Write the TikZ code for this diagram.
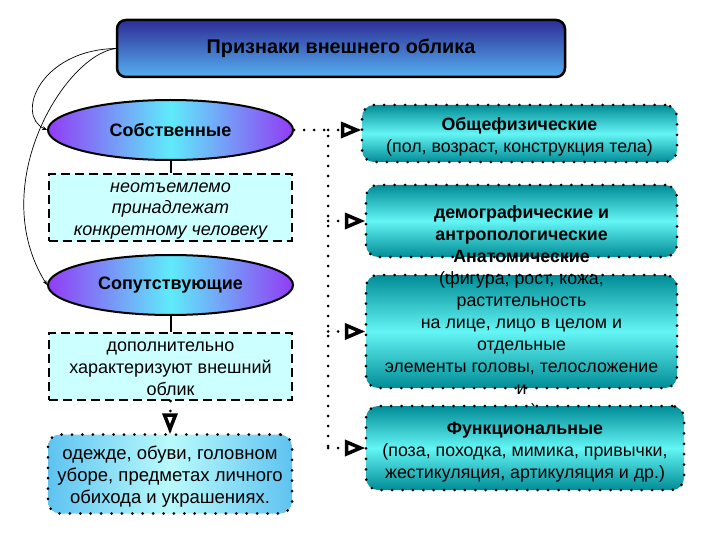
\documentclass[tikz,border=0pt]{standalone}
\usepackage{fontspec}
\setmainfont{Liberation Sans}
\usetikzlibrary{shapes.geometric,arrows.meta}
\definecolor{titletop}{RGB}{45,45,150}
\definecolor{titlebot}{RGB}{85,175,240}
\definecolor{elledge}{RGB}{145,60,245}
\definecolor{ellmid}{RGB}{95,235,250}
\definecolor{dashfill}{RGB}{204,255,255}
\definecolor{tealdark}{RGB}{0,140,150}
\definecolor{teallight}{RGB}{100,245,245}
\definecolor{skyedge}{RGB}{95,195,240}
\definecolor{skymid}{RGB}{185,250,252}
\tikzset{
  titlebox/.style={draw=black, line width=2.5pt, rounded corners=9pt, top color=titletop, bottom color=titlebot,
    minimum width=448pt, minimum height=57pt, font=\fontsize{19.8}{22}\selectfont\bfseries, inner sep=0pt},
  ellbox/.style={ellipse, draw=black, line width=2pt, left color=elledge, right color=elledge, middle color=ellmid,
    minimum width=245pt, minimum height=60pt, inner sep=0pt, font=\fontsize{18}{20}\selectfont\bfseries},
  dashbox/.style={draw=black, line width=2pt, dash pattern=on 9pt off 5pt, fill=dashfill,
    minimum width=243pt, inner sep=0pt},
  lefttext/.style={align=center, inner sep=0pt, font=\fontsize{18}{21.8}\selectfont},
  dotborder/.style={draw=black, line width=3pt, line cap=round, dash pattern=on 0pt off 10.4pt, rounded corners=12pt},
  tealbox/.style={dotborder, top color=tealdark, bottom color=tealdark, middle color=teallight,
    inner sep=0pt},
  tealtext/.style={align=center, inner sep=0pt, font=\fontsize{17.8}{22}\selectfont},
  skybox/.style={dotborder, left color=skyedge, right color=skyedge, middle color=skymid,
    minimum width=244pt, minimum height=79pt, inner sep=0pt},
  dotline/.style={draw=black, line width=3pt, line cap=round, dash pattern=on 0pt off 10pt},
  tiphead/.style={draw=black, fill=white, solid, line width=3.5pt, line join=miter},
  pics/tipright/.style={code={\path[tiphead] (-18,-6) -- (-18,6) -- (-4,0) -- cycle;}},
  pics/tipdown/.style={code={\path[tiphead] (-5.5,-18) -- (5.5,-18) -- (0,-4) -- cycle;}},
  solidline/.style={draw=black, line width=2pt},
  thincurve/.style={draw=black, line width=0.7pt, -{Stealth[length=5pt, width=4pt]}}
}
\begin{document}
\begin{tikzpicture}[x=1pt, y=-1pt]
\useasboundingbox (0,0) rectangle (720,540);
% title
\node[titlebox] (title) at (341,48.5) {Признаки внешнего облика};
% left column
\node[ellbox] (e1) at (170.5,130) {Собственные};
\node[dashbox, minimum height=67pt] (d1) at (170.5,207.5) {};
\node[lefttext, font=\fontsize{18}{21.8}\selectfont\itshape] (d1t) at (170.5,211) {неотъемлемо\\принадлежат\\конкретному человеку};
\node[ellbox] (e2) at (170.5,285) {Сопутствующие};
\node[dashbox, minimum height=67pt] (d2) at (170.5,366.5) {};
\node[lefttext] (d2t) at (170.5,369) {дополнительно\\характеризуют внешний\\облик};
\node[skybox] (b3) at (170,474) {};
\node[lefttext, font=\fontsize{18.5}{22}\selectfont] (b3t) at (170,477) {одежде, обуви, головном\\уборе, предметах личного\\обихода и украшениях.};
\draw[solidline] (e1.south) -- (d1.north);
\draw[solidline] (e2.south) -- (d2.north);
\draw[dotline] (d2.south) -- (b3.north);
\path (b3.north) pic {tipdown};
% curves
\draw[thincurve] (title.west) .. controls (40,50) and (15,115) .. (e1.west);
\draw[thincurve] (title.west) .. controls (65,55) and (-15,185) .. (e2.west);
% right column
\node[tealbox, minimum width=315pt, minimum height=57pt] (r1) at (519.5,133.5) {};
\node[tealtext] (r1t) at (519.5,137) {\textbf{Общефизические}\\(пол, возраст, конструкция тела)};
\node[tealbox, minimum width=311pt, minimum height=72pt] (r2) at (521.5,221) {};
\node[tealtext, font=\fontsize{17.8}{22}\selectfont\bfseries] (r2t) at (521.5,225) {демографические и\\антропологические};
\node[tealbox, minimum width=311pt, minimum height=113pt] (r3) at (521.5,331.5) {};
\node[tealtext] (r3t) at (521.5,335) {\textbf{Анатомические}\\(фигура, рост, кожа,\\растительность\\на лице, лицо в целом и\\отдельные\\элементы головы, телосложение\\и\\др.)};
\node[tealbox, minimum width=318pt, minimum height=84pt] (r4) at (525,448) {};
\node[tealtext] (r4t) at (525,452) {\textbf{Функциональные}\\(поза, походка, мимика, привычки,\\жестикуляция, артикуляция и др.)};
% dotted connectors
\coordinate (j1) at (328,130);
\coordinate (j4) at (328,448);
\coordinate (a1) at (r1.west |- j1);
\draw[dotline] (e1.east) -- (j1) -- (j4);
\draw[dotline] (j1) -- (a1);
\draw[dotline] (j1 |- r2.west) -- (r2.west);
\draw[dotline] (j1 |- r3.west) -- (r3.west);
\draw[dotline] (j4) -- (r4.west);
\path (a1) pic {tipright};
\path (r2.west) pic {tipright};
\path (r3.west) pic {tipright};
\path (r4.west) pic {tipright};
\end{tikzpicture}
\end{document}
